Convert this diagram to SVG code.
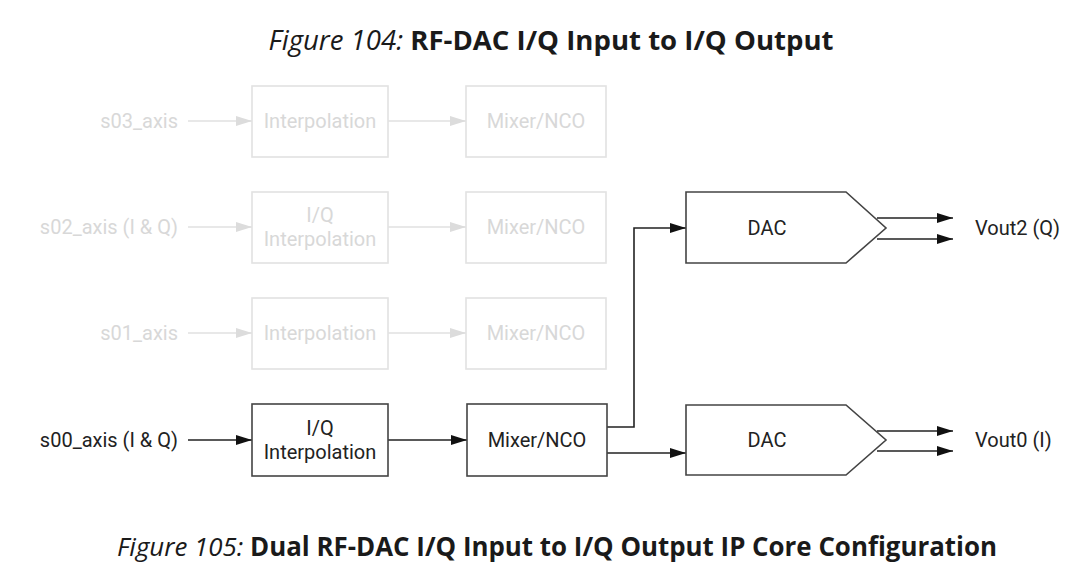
<svg xmlns="http://www.w3.org/2000/svg" width="1090" height="582" viewBox="0 0 1090 582">
<style>
.t{font-family:Roboto,"Liberation Sans",sans-serif;font-size:20px;fill:#222}
.g{fill:#d8d8d8}
.box{fill:#fff;stroke:#444;stroke-width:1.6}
.gbox{fill:#fff;stroke:#e2e2e2;stroke-width:1.6}
.ln{fill:none;stroke:#222;stroke-width:1.6}
.gln{fill:none;stroke:#e0e0e0;stroke-width:1.6}
.cap{font-family:"Open Sans","Noto Sans",sans-serif;fill:#1a1a1a}
</style>
<defs>
<marker id="ah" markerWidth="16" markerHeight="10" refX="16" refY="5" orient="auto" markerUnits="userSpaceOnUse"><path d="M0,0 L16,5 L0,10 Z" fill="#111"/></marker>
<marker id="gah" markerWidth="16" markerHeight="10" refX="16" refY="5" orient="auto" markerUnits="userSpaceOnUse"><path d="M0,0 L16,5 L0,10 Z" fill="#dcdcdc"/></marker>
</defs>
<rect width="1090" height="582" fill="#fff"/>
<text class="cap" x="551" y="50" text-anchor="middle" font-size="27" textLength="565" lengthAdjust="spacingAndGlyphs"><tspan font-style="italic">Figure 104:</tspan> <tspan font-weight="bold">RF-DAC I/Q Input to I/Q Output</tspan></text>

<g id="connectors">
<path class="gln" d="M188,121 H252" marker-end="url(#gah)"/>
<path class="gln" d="M388,121 H466" marker-end="url(#gah)"/>
<path class="gln" d="M188,227 H252" marker-end="url(#gah)"/>
<path class="gln" d="M388,227 H466" marker-end="url(#gah)"/>
<path class="gln" d="M188,333 H252" marker-end="url(#gah)"/>
<path class="gln" d="M388,333 H466" marker-end="url(#gah)"/>
<path class="ln" d="M188,440 H252" marker-end="url(#ah)"/>
<path class="ln" d="M388,440 H467" marker-end="url(#ah)"/>
<path class="ln" d="M607,427 H634 V228 H686" marker-end="url(#ah)"/>
<path class="ln" d="M607,453 H686" marker-end="url(#ah)"/>
<path class="ln" d="M877,218 H953" marker-end="url(#ah)"/>
<path class="ln" d="M877,239 H953" marker-end="url(#ah)"/>
<path class="ln" d="M877,431 H953" marker-end="url(#ah)"/>
<path class="ln" d="M877,451 H953" marker-end="url(#ah)"/>
</g>

<g id="s03"><text class="t g" x="178" y="128" text-anchor="end">s03_axis</text></g>
<g id="interp3"><rect class="gbox" x="252" y="86" width="136" height="71"/><text class="t g" x="320" y="128" text-anchor="middle">Interpolation</text></g>
<g id="mixer3"><rect class="gbox" x="466" y="86" width="140" height="71"/><text class="t g" x="536" y="128" text-anchor="middle">Mixer/NCO</text></g>

<g id="s02"><text class="t g" x="178" y="234" text-anchor="end">s02_axis (I &amp; Q)</text></g>
<g id="interp2"><rect class="gbox" x="252" y="192" width="136" height="71"/><text class="t g" x="320" y="222" text-anchor="middle">I/Q</text><text class="t g" x="320" y="246" text-anchor="middle">Interpolation</text></g>
<g id="mixer2"><rect class="gbox" x="466" y="192" width="140" height="71"/><text class="t g" x="536" y="234" text-anchor="middle">Mixer/NCO</text></g>

<g id="s01"><text class="t g" x="178" y="340" text-anchor="end">s01_axis</text></g>
<g id="interp1"><rect class="gbox" x="252" y="298" width="136" height="71"/><text class="t g" x="320" y="340" text-anchor="middle">Interpolation</text></g>
<g id="mixer1"><rect class="gbox" x="466" y="298" width="140" height="71"/><text class="t g" x="536" y="340" text-anchor="middle">Mixer/NCO</text></g>

<g id="s00"><text class="t" x="178" y="447" text-anchor="end">s00_axis (I &amp; Q)</text></g>
<g id="interp0"><rect class="box" x="252" y="404" width="136" height="72"/><text class="t" x="320" y="435" text-anchor="middle">I/Q</text><text class="t" x="320" y="459" text-anchor="middle">Interpolation</text></g>
<g id="mixer0"><rect class="box" x="467" y="404" width="140" height="72"/><text class="t" x="537" y="447" text-anchor="middle">Mixer/NCO</text></g>

<g id="dac2"><path class="box" d="M686,192 H846 L886,228 L846,263 H686 Z"/><text class="t" x="767" y="235" text-anchor="middle">DAC</text></g>
<g id="dac0"><path class="box" d="M686,405 H846 L886,440 L846,475 H686 Z"/><text class="t" x="767" y="447" text-anchor="middle">DAC</text></g>

<g id="vout2"><text class="t" x="975" y="235">Vout2 (Q)</text></g>
<g id="vout0"><text class="t" x="975" y="447">Vout0 (I)</text></g>

<text class="cap" x="557" y="556" text-anchor="middle" font-size="26" textLength="880" lengthAdjust="spacingAndGlyphs"><tspan font-style="italic">Figure 105:</tspan> <tspan font-weight="bold">Dual RF-DAC I/Q Input to I/Q Output IP Core Configuration</tspan></text>
</svg>
